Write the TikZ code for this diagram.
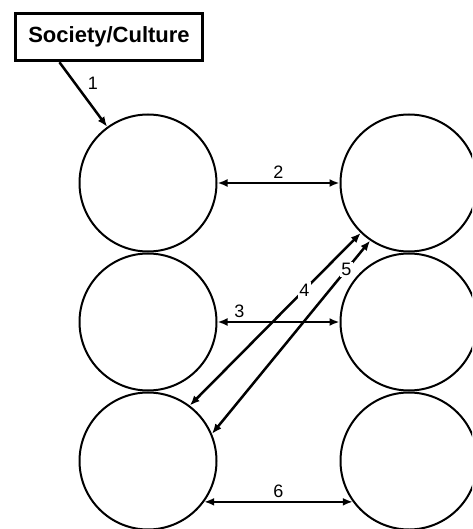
\documentclass[tikz,border=0pt]{standalone}
\usepackage{fontspec}
\setmainfont{Liberation Sans}
\usetikzlibrary{arrows.meta}

\begin{document}
\begin{tikzpicture}[x=1pt, y=-1pt,
	 >={Latex[length=10pt,width=8pt]},
	 font=\fontsize{18}{20}\selectfont]
	 
	 % style of the circles and links
	 \tikzstyle{cell}=[circle, draw, line width=2pt, minimum size=137pt, inner sep=0pt]
	 \tikzstyle{link}=[<->, line width=2.5pt]
	 \tikzstyle{gap}=[fill=white, inner sep=1.5pt]
	 
	 \clip (0,0) rectangle (472,529);
	 
	 \node [draw, line width=3.5pt, minimum width=187pt, minimum height=47pt,
	   font=\fontsize{22}{24}\selectfont\bfseries] (soc) at (109,37) {Society/Culture};
	 
	 \node [cell] (l1) at (148,183) {};
	 \node [cell] (l2) at (148,322) {};
	 \node [cell] (l3) at (148,461) {};
	 \node [cell] (r1) at (409,183) {};
	 \node [cell] (r2) at (409,322) {};
	 \node [cell] (r3) at (409,461) {};
	 
	 \draw [->, line width=2.5pt] (soc.207) -- (l1.126) node [midway, above right] {1};
	 \draw [link] (l1) -- (r1) node [midway, above] {2};
	 \draw [link] (l2) -- (r2) node [pos=0.18, above] {3};
	 \draw [link] (l3.53) -- (r1.226) node [pos=0.67, gap] {4};
	 \draw [link] (l3.23) -- (r1.236) node [pos=0.85, gap] {5};
	 \draw [link] (l3.-36) -- (r3.216) node [midway, above] {6};
	 
\end{tikzpicture}
\end{document}
